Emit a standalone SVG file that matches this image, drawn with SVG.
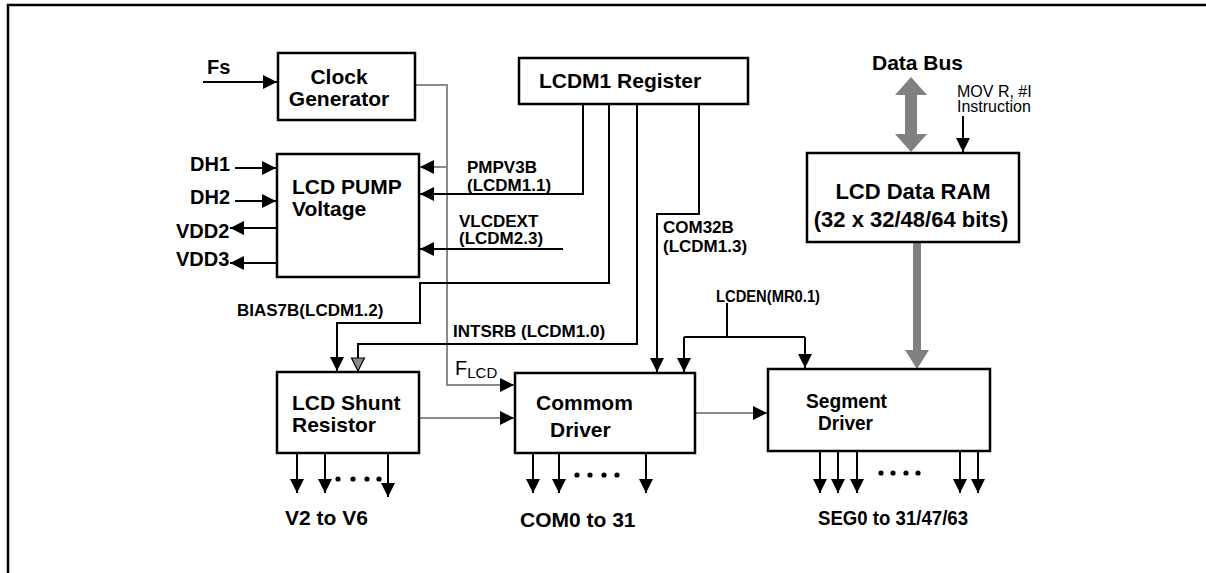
<svg xmlns="http://www.w3.org/2000/svg" width="1206" height="573" viewBox="0 0 1206 573">
<defs>
<style>
.box{fill:#fff;stroke:#000;stroke-width:2.5}
.ln{fill:none;stroke:#000;stroke-width:2}
.gl{fill:none;stroke:#8a8a8a;stroke-width:2}
.t{font-family:"Liberation Sans",Arial,sans-serif;font-weight:bold;fill:#000}
.big{font-size:21px}
.mid{font-size:20px}
.sm{font-size:17px}
.r{font-family:"Liberation Sans",Arial,sans-serif;fill:#000}
</style>
<marker id="ah" markerUnits="userSpaceOnUse" markerWidth="15" markerHeight="15" refX="14" refY="7" orient="auto">
<path d="M0,0 L14,7 L0,14 z" fill="#000"/>
</marker>
<marker id="ahg" markerUnits="userSpaceOnUse" markerWidth="16" markerHeight="16" refX="14" refY="7.5" orient="auto">
<path d="M1,1 L14,7.5 L1,14 z" fill="#8a8a8a" stroke="#000" stroke-width="1.2"/>
</marker>
</defs>
<rect width="1206" height="573" fill="#fff"/>
<path d="M8,573 V5 H1206" fill="none" stroke="#000" stroke-width="2.5"/>

<g id="connectors">
<path class="ln" d="M203,82 H277" marker-end="url(#ah)"/>
<path class="gl" d="M413,85 H447 V385 H514" marker-end="url(#ah)"/>
<path class="gl" d="M447,167 H420" marker-end="url(#ah)"/>
<path class="ln" d="M583,104 V194 H420" marker-end="url(#ah)"/>
<path class="ln" d="M563,249 H420" marker-end="url(#ah)"/>
<path class="ln" d="M609,104 V283 H420 V323 H337 V371" marker-end="url(#ah)"/>
<path class="ln" d="M637,104 V344 H358 V371" marker-end="url(#ahg)"/>
<path class="ln" d="M699,104 V214 H657 V372" marker-end="url(#ah)"/>
<path class="ln" d="M727,303 V337 M684,337 H805"/>
<path class="ln" d="M684,337 V372" marker-end="url(#ah)"/>
<path class="ln" d="M805,337 V368" marker-end="url(#ah)"/>
<path class="ln" d="M235,168 H276" marker-end="url(#ah)"/>
<path class="ln" d="M235,201 H276" marker-end="url(#ah)"/>
<path class="ln" d="M277,228 H230" marker-end="url(#ah)"/>
<path class="ln" d="M277,263 H230" marker-end="url(#ah)"/>
<path class="gl" d="M420,418 H514" marker-end="url(#ah)"/>
<path class="gl" d="M696,413 H767" marker-end="url(#ah)"/>
<path class="ln" d="M963,116 V152" marker-end="url(#ah)"/>
<polygon points="911,77 927,95 917,95 917,134 927,134 911,152 895,134 905,134 905,95 895,95" fill="#808080"/>
<polygon points="913,243 921,243 921,350 929,350 917,369 905,350 913,350" fill="#808080"/>
<path class="ln" d="M297,453 V493 M325,453 V493 M388,453 V497" />
<path class="ln" d="M297,480 V493" marker-end="url(#ah)"/>
<path class="ln" d="M325,480 V493" marker-end="url(#ah)"/>
<path class="ln" d="M388,484 V497" marker-end="url(#ah)"/>
<path class="ln" d="M533,453 V493 M559,453 V493 M646,453 V493"/>
<path class="ln" d="M533,480 V493" marker-end="url(#ah)"/>
<path class="ln" d="M559,480 V493" marker-end="url(#ah)"/>
<path class="ln" d="M646,480 V493" marker-end="url(#ah)"/>
<path class="ln" d="M820,452 V493 M838,452 V493 M857,452 V493 M960,452 V493 M978,452 V493"/>
<path class="ln" d="M820,480 V493" marker-end="url(#ah)"/>
<path class="ln" d="M838,480 V493" marker-end="url(#ah)"/>
<path class="ln" d="M857,480 V493" marker-end="url(#ah)"/>
<path class="ln" d="M960,480 V493" marker-end="url(#ah)"/>
<path class="ln" d="M978,480 V493" marker-end="url(#ah)"/>
<g fill="#000">
<circle cx="338" cy="479" r="2.6"/><circle cx="353" cy="479" r="2.6"/><circle cx="367" cy="479" r="2.6"/><circle cx="379" cy="479" r="2.6"/>
<circle cx="577" cy="475" r="2.6"/><circle cx="590" cy="475" r="2.6"/><circle cx="604" cy="475" r="2.6"/><circle cx="617" cy="475" r="2.6"/>
<circle cx="881" cy="473" r="2.6"/><circle cx="893" cy="473" r="2.6"/><circle cx="906" cy="473" r="2.6"/><circle cx="918" cy="473" r="2.6"/>
</g>
</g>

<g id="clock">
<rect class="box" x="278" y="53" width="137" height="67"/>
<text class="t big" x="339" y="84" text-anchor="middle">Clock</text>
<text class="t big" x="339" y="106" text-anchor="middle">Generator</text>
</g>
<g id="lcdm1">
<rect class="box" x="519" y="58" width="229" height="46"/>
<text class="t big" x="620" y="88" text-anchor="middle">LCDM1 Register</text>
</g>
<g id="pump">
<rect class="box" x="277" y="154" width="142" height="123"/>
<text class="t big" x="292" y="194">LCD PUMP</text>
<text class="t big" x="292" y="216">Voltage</text>
</g>
<g id="ram">
<rect class="box" x="807" y="153" width="212" height="89"/>
<text class="t" font-size="22" x="913" y="199" text-anchor="middle">LCD Data RAM</text>
<text class="t" font-size="22" x="911" y="227" text-anchor="middle">(32 x 32/48/64 bits)</text>
</g>
<g id="shunt">
<rect class="box" x="277" y="372" width="142" height="81"/>
<text class="t big" x="292" y="410">LCD Shunt</text>
<text class="t big" x="292" y="432">Resistor</text>
</g>
<g id="common">
<rect class="box" x="515" y="373" width="180" height="80"/>
<text class="t big" x="536" y="410">Commom</text>
<text class="t big" x="550" y="437">Driver</text>
</g>
<g id="segment">
<rect class="box" x="768" y="369" width="222" height="82"/>
<text class="t big" x="806" y="408" textLength="81" lengthAdjust="spacingAndGlyphs">Segment</text>
<text class="t big" x="818" y="430" textLength="55" lengthAdjust="spacingAndGlyphs">Driver</text>
</g>

<g id="labels">
<text class="t mid" x="207" y="74">Fs</text>
<text class="t mid" x="190" y="171">DH1</text>
<text class="t mid" x="190" y="204">DH2</text>
<text class="t mid" x="176" y="238">VDD2</text>
<text class="t mid" x="176" y="266">VDD3</text>
<text class="t sm" x="467" y="173">PMPV3B</text>
<text class="t sm" x="467" y="191">(LCDM1.1)</text>
<text class="t sm" x="459" y="227">VLCDEXT</text>
<text class="t sm" x="459" y="244">(LCDM2.3)</text>
<text class="t sm" x="663" y="233">COM32B</text>
<text class="t sm" x="663" y="252">(LCDM1.3)</text>
<text class="t sm" x="237" y="316">BIAS7B(LCDM1.2)</text>
<text class="t sm" x="453" y="337">INTSRB (LCDM1.0)</text>
<text class="t" font-size="16" x="716" y="302" textLength="104" lengthAdjust="spacingAndGlyphs">LCDEN(MR0.1)</text>
<text class="r" font-size="20" x="455" y="375">F<tspan font-size="15" dy="3">LCD</tspan></text>
<text class="t" font-size="21" x="872" y="70">Data Bus</text>
<text class="r" font-size="16" x="957" y="97">MOV R, #I</text>
<text class="r" font-size="16" x="957" y="112">Instruction</text>
<text class="t big" x="285" y="525">V2 to V6</text>
<text class="t big" x="520" y="527">COM0 to 31</text>
<text class="t big" x="818" y="525" textLength="150" lengthAdjust="spacingAndGlyphs">SEG0 to 31/47/63</text>
</g>
</svg>
